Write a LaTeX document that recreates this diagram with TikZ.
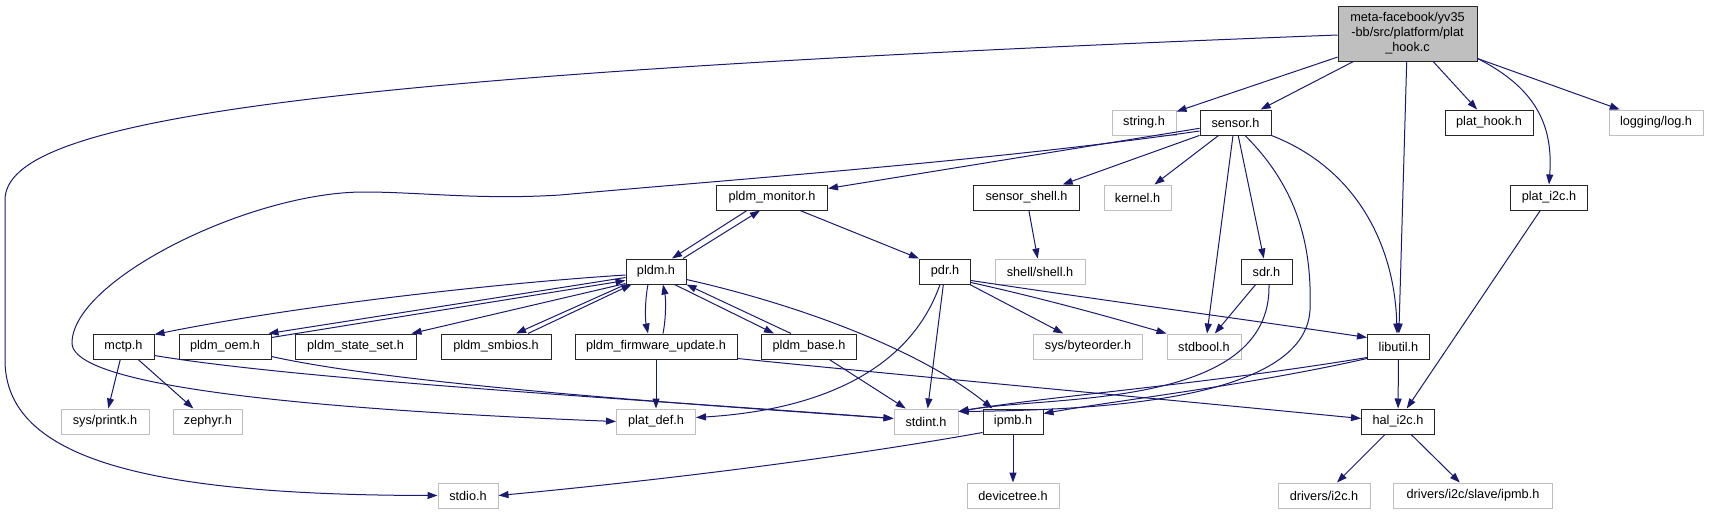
\documentclass[tikz,border=0pt]{standalone}
\usepackage{fontspec}
\setmainfont{Liberation Sans}
\usetikzlibrary{arrows.meta,calc}
\definecolor{edgec}{HTML}{191970}
\definecolor{grayb}{HTML}{BFBFBF}
\newcommand\dxfont{\fontsize{12.7}{15}\selectfont}
\begin{document}
\begin{tikzpicture}[x=1pt,y=-1pt,
  nb/.style={draw=black!85, line width=1pt, fill=white, minimum height=25pt, inner sep=0pt, font=\dxfont},
  ng/.style={draw=grayb, line width=1pt, fill=white, minimum height=25pt, inner sep=0pt, font=\dxfont},
  e/.style={draw=edgec, line width=1pt, -{Triangle[length=10pt,width=7pt]}}]
\useasboundingbox (0,0) rectangle (1709,515);
% nodes
\node[nb, fill=grayb, minimum width=139pt, minimum height=55pt, align=center] (rt) at (1407.5,33.5) {meta-facebook/yv35\\-bb/src/platform/plat\\\_hook.c};
\node[ng, minimum width=64pt] (str) at (1144,122.5) {string.h};
\node[nb, minimum width=71pt] (sen) at (1235.5,122.5) {sensor.h};
\node[nb, minimum width=88pt] (phk) at (1489,122.5) {plat\_hook.h};
\node[ng, minimum width=94pt] (log) at (1656,122.5) {logging/log.h};
\node[nb, minimum width=111pt] (mon) at (772,197.5) {pldm\_monitor.h};
\node[nb, minimum width=106pt] (ssh) at (1026.5,197.5) {sensor\_shell.h};
\node[ng, minimum width=67pt] (ker) at (1137.5,197.5) {kernel.h};
\node[nb, minimum width=77pt] (pi2) at (1549,197.5) {plat\_i2c.h};
\node[nb, minimum width=60pt] (pldm) at (656,271.5) {pldm.h};
\node[nb, minimum width=51pt] (pdr) at (945,271.5) {pdr.h};
\node[ng, minimum width=90pt] (shl) at (1040,271.5) {shell/shell.h};
\node[nb, minimum width=51pt] (sdr) at (1266.5,271.5) {sdr.h};
\node[nb, minimum width=61pt] (mctp) at (123.5,346.5) {mctp.h};
\node[nb, minimum width=92pt] (oem) at (225,346.5) {pldm\_oem.h};
\node[nb, minimum width=121pt] (sset) at (355.5,346.5) {pldm\_state\_set.h};
\node[nb, minimum width=110pt] (smb) at (496,346.5) {pldm\_smbios.h};
\node[nb, minimum width=162pt] (fw) at (656,346.5) {pldm\_firmware\_update.h};
\node[nb, minimum width=95pt] (base) at (809,346.5) {pldm\_base.h};
\node[ng, minimum width=109pt] (byo) at (1088,346.5) {sys/byteorder.h};
\node[ng, minimum width=74pt] (sbool) at (1204,346.5) {stdbool.h};
\node[nb, minimum width=62pt] (lu) at (1398.5,346.5) {libutil.h};
\node[ng, minimum width=88pt] (prk) at (105,421.5) {sys/printk.h};
\node[ng, minimum width=69pt] (zep) at (208,421.5) {zephyr.h};
\node[ng, minimum width=79pt] (pdef) at (656,421.5) {plat\_def.h};
\node[ng, minimum width=64pt] (sint) at (926,421.5) {stdint.h};
\node[nb, minimum width=60pt] (ipmb) at (1013,421.5) {ipmb.h};
\node[nb, minimum width=73pt] (hal) at (1398,421.5) {hal\_i2c.h};
\node[ng, minimum width=60pt] (stdio) at (468,495.5) {stdio.h};
\node[ng, minimum width=92pt] (dtree) at (1013,495.5) {devicetree.h};
\node[ng, minimum width=92pt] (di2c) at (1324,495.5) {drivers/i2c.h};
\node[ng, minimum width=159pt] (dipmb) at (1473,495.5) {drivers/i2c/slave/ipmb.h};
% root edges
\draw[e] ($(rt.west)+(0,1.5)$) .. controls (300,75) and (5,120) .. (5,200) -- (5,360) .. controls (5,460) and (150,495) .. (stdio.west);
\draw[e] (rt) -- (str);
\draw[e] (rt) -- (sen);
\draw[e] (rt) -- (lu);
\draw[e] (rt) -- (phk);
\draw[e] ($(rt.south east)+(0,-3)$) .. controls (1540,90) and (1553,130) .. (pi2.north);
\draw[e] (rt) -- (log);
% sensor edges
\draw[e] (sen) -- (mon);
\draw[e] ($(sen.west)+(0,8.5)$) .. controls (1000,160) and (750,178) .. (560,195) .. controls (480,200) and (420,192) .. (364,192) .. controls (250,192) and (72,280) .. (72,343) .. controls (72,375) and (200,405) .. (pdef.west);
\draw[e] (sen) -- (ssh);
\draw[e] (sen) -- (ker);
\draw[e] ($(sen.south)+(-2.5,0)$) -- ($(sbool.north)+(3,0)$);
\draw[e] (sen) -- (sdr);
\draw[e] ($(sen.south)+(9.5,0)$) .. controls (1300,190) and (1312,250) .. (1310,310) .. controls (1305,400) and (1100,410) .. ($(sint.east)+(0,-10)$);
\draw[e] (sen.south east) .. controls (1360,170) and (1395,250) .. ($(lu.north)+(-1.5,0)$);
% pldm_monitor
\draw[e] ($(mon.south)+(-25,0)$) -- ($(pldm.north)+(16,0)$);
\draw[e] ($(pldm.north)+(27,0)$) -- ($(mon.south)+(-12,0)$);
\draw[e] ($(mon.south)+(28,0)$) -- (pdr.north west);
% pldm
\draw[e] ($(pldm.west)+(0,3.5)$) .. controls (500,283) and (300,305) .. ($(mctp.north east)+(0,1)$);
\draw[e] ($(pldm.west)+(0,6)$) -- ($(oem.north east)+(-3,0)$);
\draw[e] ($(oem.east)+(0,-9)$) -- ($(pldm.west)+(0,9)$);
\draw[e] ($(pldm.west)+(0,12)$) -- ($(sset.north east)+(-5,0)$);
\draw[e] (pldm.south west) -- ($(smb.north)+(20,0)$);
\draw[e] ($(smb.north)+(32,0)$) -- ($(pldm.south west)+(6,0)$);
\draw[e] ($(pldm.south)+(-8,0)$) .. controls +(-3,15) and +(-3,-15) .. ($(fw.north)+(-8,0)$);
\draw[e] ($(fw.north)+(7,0)$) .. controls +(3,-15) and +(3,15) .. ($(pldm.south)+(7,0)$);
\draw[e] ($(pldm.south east)+(-12,0)$) -- ($(base.north)+(-35,0)$);
\draw[e] ($(base.north)+(-18,0)$) -- (pldm.south east);
\draw[e] ($(pldm.east)+(0,8)$) .. controls (800,305) and (920,350) .. ($(ipmb.north west)+(10,0)$);
% mctp, oem
\draw[e] (mctp) -- (prk);
\draw[e] (mctp) -- (zep);
\draw[e] ($(mctp.east)+(0,9)$) .. controls (300,380) and (650,400) .. ($(sint.west)+(0,-3)$);
\draw[e] ($(oem.east)+(0,10)$) .. controls (400,385) and (700,405) .. ($(sint.west)+(0,-3)$);
% fw, base
\draw[e] (fw) -- (pdef);
\draw[e] ($(fw.south east)+(0,-1)$) .. controls (900,375) and (1150,398) .. ($(hal.west)+(0,-3)$);
\draw[e] (base) -- (sint);
% pdr
\draw[e] ($(pdr.south)+(-5,0)$) .. controls (910,370) and (820,410) .. ($(pdef.east)+(0,-4)$);
\draw[e] (pdr) -- (sint);
\draw[e] (pdr) -- (byo);
\draw[e] ($(pdr.south east)+(0,-2)$) .. controls (1050,300) and (1120,320) .. (sbool.north west);
\draw[e] ($(pdr.south east)+(0,-4)$) .. controls (1100,300) and (1250,320) .. ($(lu.west)+(0,-9)$);
% others
\draw[e] (ssh) -- (shl);
\draw[e] (sdr) -- (sbool);
\draw[e] ($(sdr.south)+(2.5,0)$) .. controls (1272,410) and (1050,395) .. ($(sint.east)+(0,-10)$);
\draw[e] (lu) -- (hal);
\draw[e] ($(lu.south west)+(0,-2)$) .. controls (1200,385) and (1050,396) .. ($(sint.east)+(0,-10)$);
\draw[e] ($(lu.south west)+(0,-1)$) .. controls (1250,385) and (1120,400) .. ($(ipmb.east)+(0,-8)$);
\draw[e] (pi2) -- (hal);
\draw[e] (hal) -- (di2c);
\draw[e] (hal) -- (dipmb);
\draw[e] (ipmb) -- (dtree);
\draw[e] ($(ipmb.south west)+(0,-2)$) .. controls (800,465) and (600,486) .. (stdio.east);
\end{tikzpicture}
\end{document}
